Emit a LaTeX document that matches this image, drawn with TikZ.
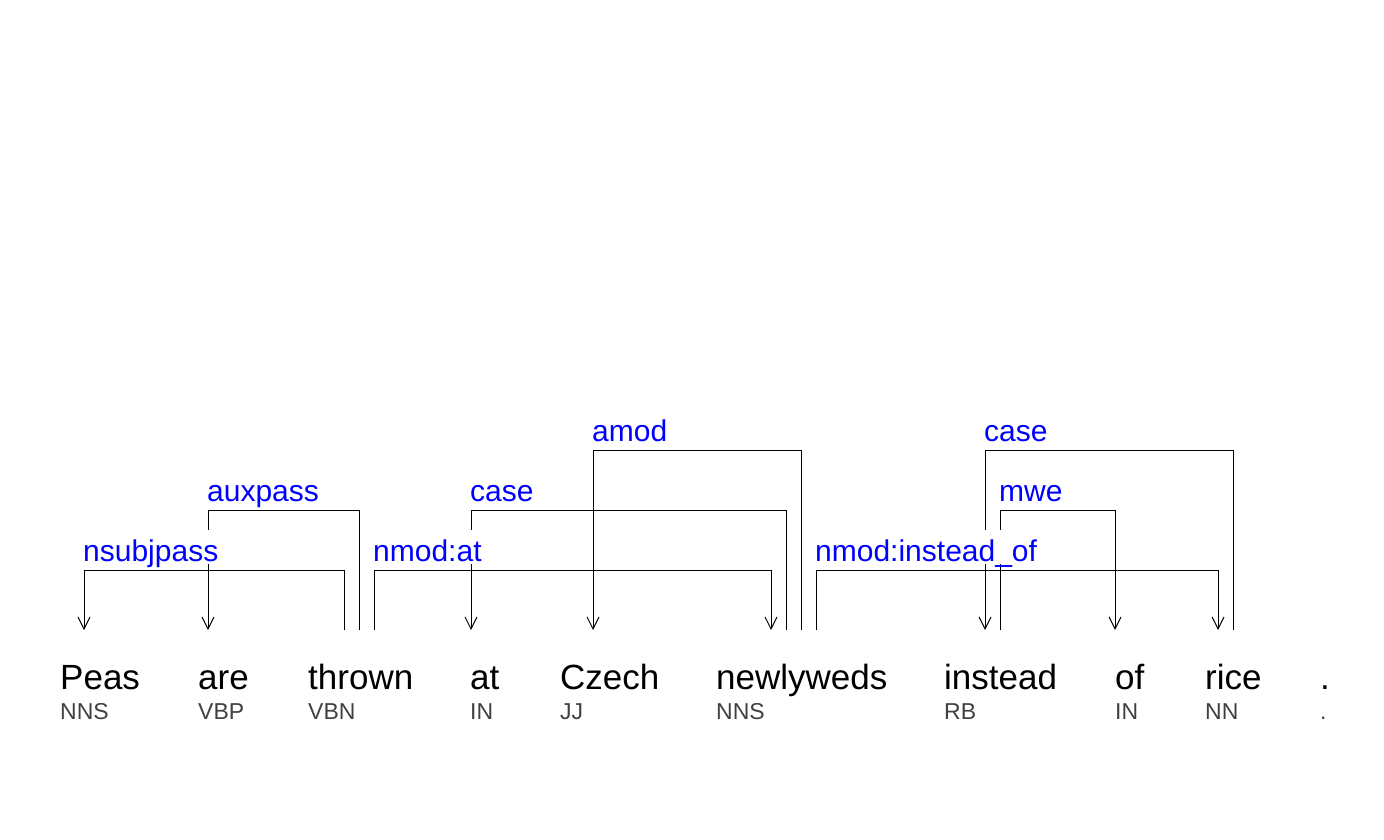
\documentclass[tikz,border=0pt]{standalone}
\usepackage{fontspec}
\setmainfont{Liberation Sans}
\usetikzlibrary{arrows.meta}
\definecolor{labelblue}{RGB}{0,0,255}
\definecolor{taggray}{RGB}{64,64,64}
\begin{document}
\begin{tikzpicture}[x=1pt,y=-1pt,
  word/.style={anchor=base west, inner sep=0pt, font=\fontsize{35}{40}\selectfont},
  postag/.style={anchor=base west, inner sep=0pt, text=taggray, font=\fontsize{23}{26}\selectfont},
  deplabel/.style={anchor=base west, inner sep=0pt, fill=white, text=labelblue,
    text height=31.7pt, text depth=2.3pt, font=\fontsize{30}{34}\selectfont},
  dep/.style={line width=1pt, -{Straight Barb[length=12pt,width=12pt]}}]
\useasboundingbox (0,0) rectangle (1384,840);
\fill[white] (0,0) rectangle (1384,840);
% words
\node[word] (w1) at (60,689) {Peas};
\node[word] (w2) at (198,689) {are};
\node[word] (w3) at (308,689) {thrown};
\node[word] (w4) at (470,689) {at};
\node[word] (w5) at (560,689) {Czech};
\node[word] (w6) at (716,689) {newlyweds};
\node[word] (w7) at (944,689) {instead};
\node[word] (w8) at (1115,689) {of};
\node[word] (w9) at (1205,689) {rice};
\node[word] (w10) at (1320,689) {.};
% tags
\node[postag] (t1) at (60,719) {NNS};
\node[postag] (t2) at (198,719) {VBP};
\node[postag] (t3) at (308,719) {VBN};
\node[postag] (t4) at (470,719) {IN};
\node[postag] (t5) at (560,719) {JJ};
\node[postag] (t6) at (716,719) {NNS};
\node[postag] (t7) at (944,719) {RB};
\node[postag] (t8) at (1115,719) {IN};
\node[postag] (t9) at (1205,719) {NN};
\node[postag] (t10) at (1320,719) {.};
% attachment points
\coordinate (peas-in) at (84,630);
\coordinate (are-in) at (208,630);
\coordinate (thrown-o1) at (344,630);
\coordinate (thrown-o2) at (359,630);
\coordinate (thrown-o3) at (374,630);
\coordinate (at-in) at (471,630);
\coordinate (czech-in) at (593,630);
\coordinate (newly-in) at (771,630);
\coordinate (newly-o1) at (786,630);
\coordinate (newly-o2) at (801,630);
\coordinate (newly-o3) at (816,630);
\coordinate (instead-in) at (985,630);
\coordinate (instead-o1) at (1000,630);
\coordinate (of-in) at (1115,630);
\coordinate (rice-in) at (1218,630);
\coordinate (rice-o1) at (1233,630);
% arcs
\draw[dep] (thrown-o1) -- ++(0,-60) -| (peas-in);
\draw[dep] (thrown-o2) -- ++(0,-120) -| (are-in);
\draw[dep] (thrown-o3) -- ++(0,-60) -| (newly-in);
\draw[dep] (newly-o1) -- ++(0,-120) -| (at-in);
\draw[dep] (newly-o2) -- ++(0,-180) -| (czech-in);
\draw[dep] (newly-o3) -- ++(0,-60) -| (rice-in);
\draw[dep] (rice-o1) -- ++(0,-180) -| (instead-in);
\draw[dep] (instead-o1) -- ++(0,-120) -| (of-in);
% labels
\node[deplabel] (l1) at (83,561.7) {nsubjpass};
\node[deplabel] (l2) at (207,501.7) {auxpass};
\node[deplabel] (l3) at (373,561.7) {nmod:at};
\node[deplabel] (l4) at (470,501.7) {case};
\node[deplabel] (l5) at (592,441.7) {amod};
\node[deplabel] (l6) at (815,561.7) {nmod:instead\_of};
\node[deplabel] (l7) at (984,441.7) {case};
\node[deplabel] (l8) at (999,501.7) {mwe};
\end{tikzpicture}
\end{document}
